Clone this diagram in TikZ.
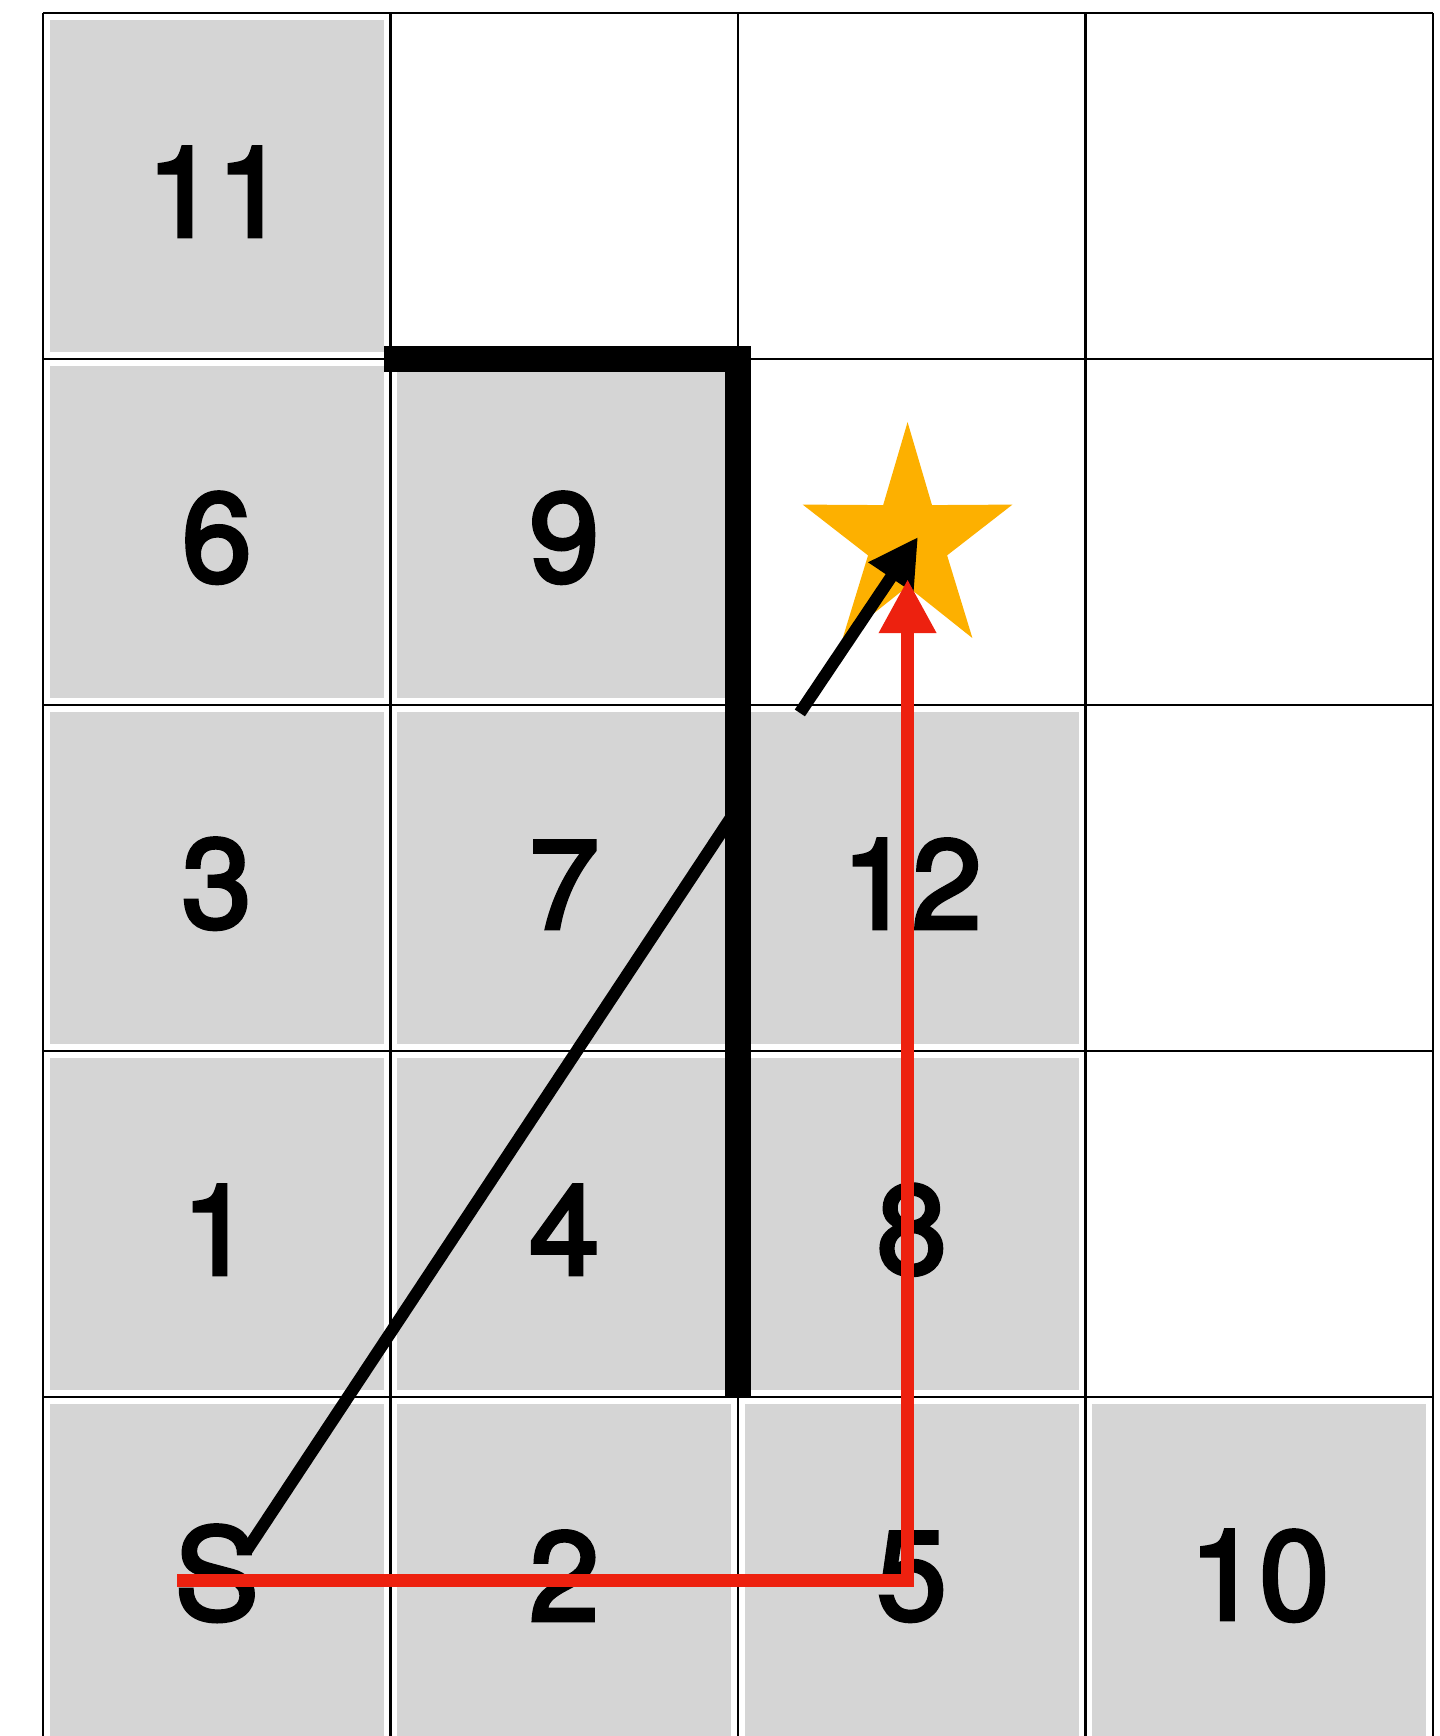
\documentclass[tikz,border=0pt]{standalone}
\usepackage{fontspec}
\setmainfont{TeX Gyre Heros}
\newfontfamily\cellfont{TeX Gyre Heros}[FakeBold=3]
\usetikzlibrary{arrows.meta}
\definecolor{cellgray}{RGB}{213,213,213}
\definecolor{pathred}{RGB}{237,33,15}
\definecolor{goalorange}{RGB}{253,176,0}

\begin{document}
\begin{tikzpicture}[x=3cm,y=2.987cm,
		cell/.style={fill=cellgray, minimum width=2.88cm, minimum height=2.87cm, inner sep=0pt, text height=24.8pt, font=\fontsize{31}{31}\cellfont},
		wall/.style={line width=6.4pt, line join=miter},
		ray/.style={line width=3pt},
		route/.style={pathred, line width=3.2pt, line join=miter}]
		\clip (-0.1237,-0.9798) rectangle (4.0173,4.0376);
		\draw[line width=0.6pt, step={(1,1)}] (0,-2) grid (4,4);
		\foreach \lbl/\x/\y in {11/0/3, 6/0/2, 9/1/2, 3/0/1, 7/1/1, 12/2/1, 1/0/0, 4/1/0, 8/2/0, S/0/-1, 2/1/-1, 5/2/-1, 10/3/-1}
			\node[cell] (c\lbl) at (\x+0.5,\y+0.5) {\lbl};

		\coordinate (goal) at (2.488,2.4726);
		\begin{scope}[shift={(goal)}, xscale=0.92]
			\fill[goalorange] (90:0.345) \foreach \a in {1,...,4} {-- (54+72*\a:0.13) -- (90+72*\a:0.345)} -- (54:0.13) -- cycle;
		\end{scope}

		\coordinate (sight0) at (0.587,-0.442);
		\coordinate (sight1) at (2.0,1.705);
		\coordinate (sight2) at (2.178,1.977);
		\coordinate (sight3) at (2.518,2.4855);
		\draw[ray] (sight0) -- (sight1);
		\draw[ray,-{Triangle[length=12pt,width=12.5pt]}] (sight2) -- (sight3);

		% wall
		\draw[wall] (0.981,3) -- (2,3) -- (2,0);

		\coordinate (r0) at (0.386,-0.529);
		\coordinate (r1) at (2.488,-0.529);
		\coordinate (r2) at (2.488,2.364);
		\draw[route,-{Triangle[length=13.3pt,width=13.3pt]}] (r0) -- (r1) -- (r2);
\end{tikzpicture}
\end{document}
